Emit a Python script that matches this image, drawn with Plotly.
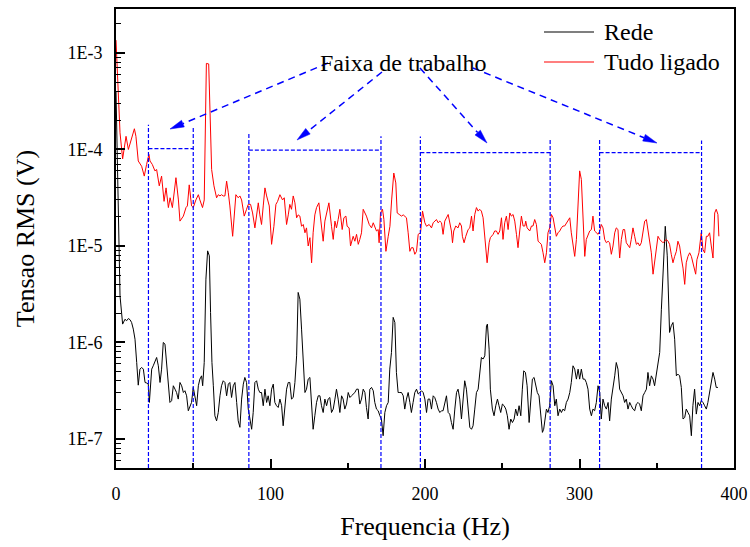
import plotly.graph_objects as go

# Spectrum of the mains alone ("Rede"), frequency in Hz and RMS voltage in microvolts
freq_rede = [0, 1, 2, 2.6, 4.3, 5.8, 6.9, 8.0, 9.1, 10.1, 11.2, 12.3, 13.4, 14.4, 15.5, 16.6, 17.7, 18.8, 19.8,
             20.9, 21.6, 22.4, 23.1, 24.1, 25.2, 26.3, 27.4, 28.5, 29.5, 30.6, 31.7, 32.8, 33.9, 34.9, 36.0, 37.1,
             38.2, 39.2, 40.3, 41.4, 42.5, 43.6, 44.6, 45.7, 46.8, 47.9, 48.9, 50.0, 51.1, 52.2, 53.3, 54.3, 55.4,
             56.1, 57.1, 58.2, 59.3, 60.4, 61.2, 62.1, 63.0, 64.0, 65.1, 66.2, 67.3, 68.3, 69.4, 70.5, 71.6, 72.7,
             73.7, 74.8, 75.9, 77.0, 78.1, 79.1, 80.2, 81.3, 82.4, 83.4, 84.5, 85.6, 86.7, 87.8, 88.8, 89.9, 91.0,
             92.1, 93.1, 94.2, 95.3, 96.4, 97.5, 98.5, 99.6, 100.7, 101.8, 102.8, 103.9, 105.0, 106.1, 107.2, 108.2,
             109.3, 110.4, 111.5, 112.5, 113.6, 114.7, 115.8, 116.9, 117.9, 119.0, 120.1, 121.2, 122.3, 123.3, 124.4,
             125.5, 126.6, 127.6, 128.7, 129.8, 130.9, 132.0, 133.0, 134.1, 135.2, 136.3, 137.3, 138.4, 139.5, 140.6,
             141.7, 142.7, 143.8, 144.9, 146.0, 147.0, 148.1, 149.2, 150.3, 151.4, 152.4, 153.5, 154.6, 155.7, 156.8,
             157.8, 158.9, 160.0, 161.1, 162.1, 163.2, 164.3, 165.4, 166.5, 167.5, 168.6, 169.7, 170.8, 171.8, 172.9,
             174.0, 175.1, 176.2, 177.2, 178.3, 179.4, 180.5, 181.5, 182.6, 183.7, 184.8, 185.9, 186.9, 188.0, 189.1,
             190.2, 191.2, 192.3, 193.4, 194.5, 195.6, 196.6, 197.7, 198.8, 199.9, 201.0, 202.0,
             203.1, 204.2, 205.3, 206.3, 207.4, 208.5, 209.6, 210.7, 211.7, 212.8, 213.9, 215.0, 216.0, 217.1, 218.2,
             219.3, 220.4, 221.4, 222.5, 223.6, 224.7, 225.7, 226.8, 227.9, 229.0, 230.1, 231.1, 232.2, 233.3, 234.4,
             235.4, 236.5, 237.6, 238.7, 239.8, 240.4, 241.5, 242.3, 243.6, 244.7, 245.8, 246.9, 247.9, 249.0, 250.1,
             251.2, 252.3, 253.3, 254.4, 255.5, 256.6, 257.7, 258.7, 259.8, 260.9, 262.0, 263.0, 263.9, 265.0, 266.1,
             267.4, 268.4, 269.5, 270.6, 271.7, 272.7, 273.8, 274.9, 276.0, 276.8, 277.7, 278.6, 279.6, 280.7, 281.8,
             282.9, 284.0, 285.0, 286.1, 287.2, 288.3, 289.3, 290.4, 291.5, 292.6, 293.7, 294.7, 295.8, 296.9, 298.0,
             299.1, 300.1, 301.2, 302.3, 303.4, 304.4, 305.5, 306.6, 307.7, 308.7, 309.8, 310.9, 312.0, 313.1, 314.1,
             315.2, 316.3, 317.4, 318.5, 319.5, 320.6, 321.7, 322.8, 323.8, 324.9, 326.0, 327.1, 328.2, 329.2, 330.3,
             331.4, 332.5, 333.5, 334.6, 335.7, 336.8, 337.9, 338.9, 340.0, 341.1, 342.2, 343.3, 344.3, 345.4, 346.5,
             347.6, 348.6, 349.7, 350.8, 351.9, 353.0, 354.0, 355.5, 356.8, 357.7, 358.3, 359.4, 360.5, 361.6, 362.7,
             363.7, 364.8, 365.9, 367.0, 368.1, 369.1, 370.2, 371.3, 372.4, 373.4, 374.5, 375.6, 376.7, 377.8, 378.8,
             379.9, 381.0, 382.1, 383.1, 384.2, 385.3, 386.4, 387.5, 388.5, 389.6]
rede_uV = [400, 50, 10, 3.04, 1.55, 1.74, 1.68, 1.77, 1.72, 1.61, 1.375, 1.08, 0.62, 0.361, 0.529, 0.551, 0.529, 0.385,
           0.38, 0.37, 0.239, 0.356, 0.529, 0.573, 0.645, 0.699, 0.573, 0.385, 0.529, 1.0, 0.961, 0.62, 0.401, 0.239,
           0.249, 0.356, 0.328, 0.303, 0.259, 0.385, 0.356, 0.303, 0.316, 0.28, 0.196, 0.221, 0.239, 0.342, 0.28,
           0.221, 0.356, 0.417, 0.451, 0.356, 0.62, 4.53, 8.9, 7.9, 2.05, 0.62, 0.356, 0.174, 0.154, 0.188, 0.28,
           0.356, 0.401, 0.385, 0.28, 0.37, 0.385, 0.269, 0.356, 0.385, 0.239, 0.154, 0.132, 0.259, 0.37, 0.434,
           0.385, 0.204, 0.161, 0.126, 0.188, 0.385, 0.401, 0.328, 0.303, 0.303, 0.221, 0.328, 0.239, 0.28, 0.221,
           0.328, 0.37, 0.239, 0.221, 0.212, 0.259, 0.221, 0.137, 0.239, 0.328, 0.385, 0.385, 0.259, 0.269, 0.385,
           0.727, 3.3, 2.81, 1.375, 0.62, 0.303, 0.328, 0.417, 0.434, 0.221, 0.126, 0.174, 0.239, 0.28, 0.28, 0.221,
           0.188, 0.259, 0.221, 0.259, 0.269, 0.188, 0.204, 0.259, 0.328, 0.259, 0.188, 0.28, 0.259, 0.204, 0.23,
           0.303, 0.269, 0.28, 0.292, 0.303, 0.328, 0.328, 0.23, 0.259, 0.328, 0.303, 0.212, 0.161, 0.328, 0.342,
           0.316, 0.239, 0.204, 0.196, 0.174, 0.161, 0.108, 0.188, 0.221, 0.239, 0.529, 0.788, 1.82, 1.61, 0.489,
           0.303, 0.303, 0.303, 0.28, 0.204, 0.259, 0.303, 0.239, 0.188, 0.239, 0.303, 0.328, 0.292, 0.303, 0.316,
           0.303, 0.259, 0.188, 0.259,
           0.259, 0.204, 0.28, 0.269, 0.239, 0.204, 0.188, 0.196, 0.196, 0.239, 0.28, 0.188, 0.181, 0.148, 0.126,
           0.204, 0.303, 0.328, 0.259, 0.161, 0.28, 0.401, 0.328, 0.204, 0.132, 0.126, 0.137, 0.204, 0.303, 0.328,
           0.451, 0.699, 0.673, 0.727, 1.49, 1.55, 0.853, 0.328, 0.204, 0.174, 0.221, 0.259, 0.221, 0.188, 0.23,
           0.221, 0.204, 0.174, 0.126, 0.161, 0.148, 0.161, 0.204, 0.174, 0.221, 0.174, 0.328, 0.508, 0.489, 0.356,
           0.148, 0.239, 0.417, 0.434, 0.342, 0.303, 0.28, 0.174, 0.117, 0.126, 0.174, 0.204, 0.188, 0.221, 0.401,
           0.356, 0.221, 0.259, 0.174, 0.204, 0.188, 0.204, 0.196, 0.239, 0.259, 0.303, 0.385, 0.573, 0.529, 0.417,
           0.529, 0.417, 0.529, 0.417, 0.417, 0.385, 0.328, 0.204, 0.174, 0.204, 0.196, 0.239, 0.356, 0.303, 0.161,
           0.259, 0.221, 0.204, 0.239, 0.154, 0.259, 0.328, 0.451, 0.62, 0.529, 0.328, 0.303, 0.28, 0.239, 0.259,
           0.204, 0.239, 0.221, 0.204, 0.196, 0.23, 0.239, 0.23, 0.196, 0.28, 0.303, 0.328, 0.489, 0.356, 0.451,
           0.417, 0.356, 0.451, 0.62, 0.788, 2.21, 5.75, 16, 7.9, 2.05, 1.27, 1.49, 1.61, 1.08, 0.451,
           0.47, 0.451, 0.342, 0.161, 0.167, 0.204, 0.188, 0.174, 0.108, 0.221, 0.328, 0.181, 0.239, 0.221, 0.249,
           0.239, 0.221, 0.204, 0.239, 0.303, 0.385, 0.489, 0.417, 0.342, 0.342]

# Spectrum with every load switched on ("Tudo ligado"), Hz and microvolts
freq_tudo = [0, 1.5, 2.6, 4.3, 6.5, 8.0, 9.1, 10.1, 11.9, 12.9, 14.4, 16.6, 18.3, 19.8, 21.3, 22.0, 23.5, 25.2, 26.3,
             28.0, 29.5, 31.1, 32.4, 33.9, 35.0, 36.5, 37.1, 38.8, 40.4, 41.4, 43.6, 45.3, 46.2, 47.4, 48.9, 50.0,
             51.7, 53.3, 54.3, 56.0, 57.1, 58.5, 60.0, 61.9, 63.4, 65.1, 66.2, 67.3, 68.3, 69.4, 70.5, 71.6, 72.7,
             73.7, 75.5, 76.3, 77.6, 79.1, 80.2, 81.3, 83.0, 84.5, 85.6, 87.1, 88.4, 89.9, 91.0, 92.1, 93.1, 94.2,
             95.3, 96.4, 97.5, 99.2, 100.7, 102.2, 103.5, 104.6, 106.1, 107.8, 108.9, 110.4, 111.5, 112.5, 113.6,
             114.7, 115.8, 116.9, 117.9, 119.0, 120.1, 121.2, 122.3, 123.3, 124.4, 125.5, 126.6, 127.6, 128.7, 129.8,
             131.3, 132.4, 134.1, 135.2, 136.3, 137.8, 139.5, 140.6, 141.7, 142.7, 143.8, 144.9, 146.4, 147.5, 148.8,
             149.6, 150.9, 151.8, 153.5, 154.6, 155.7, 156.8, 157.8, 158.9, 160.0, 161.1, 162.1, 163.9, 165.4, 166.5,
             167.5, 168.6, 169.7, 170.3, 171.2, 172.5, 173.4, 174.7, 176.2, 177.3, 178.4, 179.8, 181.1, 182.0, 183.7,
             184.8, 185.9, 186.9, 188.0, 189.1, 190.2, 191.2, 192.3, 193.4, 194.5, 195.6, 197.1, 198.4, 199.9, 201.0,
             202.7, 204.2, 205.3, 207.4, 208.5, 209.6, 210.7, 211.7, 212.8, 215.0, 216.0, 217.1, 217.8, 218.6, 219.9,
             221.4, 222.5, 223.6, 224.2, 225.3, 226.4, 227.9, 229.0, 230.1, 231.1, 232.2, 233.3, 234.4, 235.4, 236.5,
             237.6, 238.7, 240.2, 241.5, 242.3, 244.1, 245.1, 246.2, 247.3, 248.4, 249.5, 250.5, 251.6, 252.7, 253.8,
             254.9, 255.9, 257.0, 258.1, 259.2, 260.2, 261.3, 262.4, 263.5, 264.6, 265.2, 266.1, 267.8, 268.9, 269.9,
             271.0, 272.1, 273.2, 274.3, 275.3, 276.4, 277.5, 278.6, 279.6, 280.7, 281.8, 282.9, 284.0, 285.0, 286.1,
             287.2, 288.3, 289.3, 290.4, 291.5, 292.6, 293.7, 294.7, 295.8, 296.9, 298.0, 299.1, 300.1, 301.2, 302.3,
             303.4, 304.4, 305.5, 306.6, 307.7, 308.7, 309.8, 310.9, 312.0, 313.1, 314.1, 315.2, 316.3, 317.4, 318.5,
             319.5, 320.6, 321.7, 322.8, 323.8, 324.9, 326.0, 327.1, 328.2, 329.2, 330.3, 331.4, 332.5, 333.5, 334.6,
             335.7, 336.8, 337.9, 338.9, 340.0, 341.1, 342.2, 343.3, 344.3, 345.4, 346.5, 347.6, 348.6, 349.7, 350.8,
             351.9, 353.0, 354.0, 355.1, 356.2, 357.3, 358.3, 359.4, 360.5, 361.6, 362.7, 363.7, 364.8, 365.9, 367.0,
             368.1, 369.1, 370.2, 371.3, 372.4, 373.4, 374.5, 375.2, 376.0, 377.3, 378.8, 379.9, 381.0, 382.1, 383.1,
             384.2, 385.3, 386.4, 387.5, 388.5, 389.6, 390.2]
tudo_uV = [1360, 300, 149, 80, 137, 100, 117, 127, 164, 137, 76, 67, 53, 70, 89, 76, 70, 60, 62,
           42, 53, 29, 40, 25, 31.6, 25, 30, 51, 30, 18.1, 20.4, 25, 26, 43, 26, 25,
           30, 34, 30, 25, 30, 780, 770, 62, 42, 31.6, 34, 33, 34, 33, 33, 47, 35.6,
           26, 12.6, 18.8, 34, 31.6, 33, 30, 20.4, 24, 27, 27, 22, 15.4, 22, 28, 21, 16.7,
           26, 40, 33, 26, 10.4, 16, 27, 29, 34, 30, 31.6, 16.7, 21, 27, 24,
           33, 28, 19.6, 21, 20.4, 16, 16.7, 13.7, 15.4, 10, 12.2, 6.7, 13.7, 21, 25,
           28, 18.1, 11.2, 18.1, 22, 28, 16, 11.7, 18.1, 15.4, 18.8, 24, 14.8, 19.6, 20.4,
           16, 15.4, 10, 12.6, 11.2, 13.2, 10.4, 11.7, 13.7, 24, 22, 20.4, 16.7, 15.4, 17.4,
           16, 14.3, 14.8, 10.8, 22, 24, 18.8, 8.8, 12.6, 16, 30, 57, 45, 22, 21,
           20.4, 21, 20.4, 19.6, 13.7, 8.8, 9.6, 9.6, 8.2, 8.8, 13.2, 13.7, 23, 17.4, 16,
           16.7, 15.4, 17.4, 18.8, 17.4, 18.1, 17.4, 13.2, 18.1, 21.2, 17.4, 14.3, 10.8, 14.3, 16.1,
           15.4, 17.4, 16.1, 12.6, 10.8, 12.6, 14.8, 15.4, 20.4, 14.3, 21.2, 25, 23, 24, 23,
           19.6, 12.6, 6.7, 10.8, 12.2, 13.2, 14.3, 14.3, 13.2, 14.3, 19.6, 11.7, 17.4, 20.4, 14.8,
           22, 20.4, 21.2, 18.1, 13.2, 9.6, 14.3, 20.4, 16.1, 16.1, 18.1, 15.4, 14.3, 16.1, 16.1,
           18.8, 16.7, 11.2, 10.8, 10.4, 8.5, 6.7, 8.5, 13.7, 15.4, 21.2, 19.6, 16.1, 12.6, 13.7,
           14.3, 15.4, 16.1, 16.1, 17.4, 18.8, 19.6, 13.7, 10.8, 7.8, 11.7, 28, 60, 49, 21.2,
           7.8, 11.7, 13.2, 14.3, 14.8, 20.4, 14.3, 13.7, 13.2, 14.3, 16.7, 15.4, 11.7, 10.8, 11.2,
           10.8, 8.2, 10, 13.7, 15.4, 14.8, 7.5, 11.7, 14.8, 14.8, 10.8, 10, 9.6, 11.7, 15.4,
           12.6, 10.4, 10.8, 10, 10.8, 14.8, 18.1, 18.8, 14.8, 10.8, 8.5, 5.1, 6.7, 10, 12.6,
           11.7, 11.2, 10.8, 11.2, 11.7, 11.2, 10.4, 8.2, 6.7, 7.8, 8.8, 11.2, 10, 7.5, 5.9,
           4.0, 6.7, 7.8, 8.5, 7.8, 6.7, 5.7, 5.1, 7.2, 8.5, 13.7, 9.2, 8.5, 12.6, 12.6,
           13.7, 10, 7.5, 22, 24, 21.2, 12.6]

# Working frequency bands (Hz), bracket level and height of the side bars (V)
faixas = [(21, 50), (86, 171.5), (197, 281), (313, 379)]
nivel_faixa = [1.02e-4, 9.85e-5, 9.3e-5, 9.3e-5]
topo_esq = [1.8e-4, 1.5e-4, 1.36e-4, 1.31e-4]
topo_dir = [1.69e-4, 1.37e-4, 1.31e-4, 1.24e-4]

y_min, y_max = 5e-8, 2.86e-3
ytick_vals = [1e-7, 1e-6, 1e-5, 1e-4, 1e-3]
ytick_text = ["1E-7", "1E-6", "1E-5", "1E-4", "1E-3"]
xtick_vals = [0, 100, 200, 300, 400]

FONT = "Liberation Serif"
AZUL = "#0000ff"
PLOT_W, PLOT_H = 618, 459   # size of the plotting area in pixels


def to_paper(px, py):
    """Pixel offset inside the plotting area (origin top-left) -> paper coordinates."""
    return px / PLOT_W, 1 - py / PLOT_H


fig = go.Figure()

fig.add_trace(go.Scatter(x=freq_rede, y=[v * 1e-6 for v in rede_uV], mode="lines", name="Rede",
                         showlegend=False, line=dict(color="black", width=1)))
fig.add_trace(go.Scatter(x=freq_tudo, y=[v * 1e-6 for v in tudo_uV], mode="lines", name="Tudo ligado",
                         showlegend=False, line=dict(color="#ff0000", width=1)))

# dashed brackets marking each working band
for (f0, f1), nivel, t0, t1 in zip(faixas, nivel_faixa, topo_esq, topo_dir):
    fig.add_trace(go.Scatter(
        x=[f0, f0, None, f1, f1, None, f0, f1],
        y=[y_min, t0, None, y_min, t1, None, nivel, nivel],
        mode="lines", showlegend=False, hoverinfo="skip",
        line=dict(color=AZUL, width=1.2, dash="4px,2px")))

# dashed arrows from the label down to each band: (start, tip) in plot-area pixels
setas = [((212, 54), (54, 120)),
         ((266, 63), (181, 131)),
         ((304, 59), (371, 134)),
         ((357, 59), (541, 134))]
HEAD_LEN, HEAD_HALF = 14, 3.6
for (xs, ys), (xt, yt) in setas:
    dx, dy = xs - xt, ys - yt
    n = (dx * dx + dy * dy) ** 0.5
    ux, uy = dx / n, dy / n
    bx, by = xt + ux * HEAD_LEN, yt + uy * HEAD_LEN
    x0, y0 = to_paper(xs, ys)
    x1, y1 = to_paper(bx, by)
    fig.add_shape(type="line", xref="paper", yref="paper", x0=x0, y0=y0, x1=x1, y1=y1,
                  line=dict(color=AZUL, width=1.5, dash="7px,5px"))
    pts = [to_paper(xt, yt),
           to_paper(bx - uy * HEAD_HALF, by + ux * HEAD_HALF),
           to_paper(bx + uy * HEAD_HALF, by - ux * HEAD_HALF)]
    path = "M{},{} L{},{} L{},{} Z".format(*[c for p in pts for c in p])
    fig.add_shape(type="path", xref="paper", yref="paper", path=path,
                  fillcolor=AZUL, line=dict(color=AZUL, width=0.5))

fig.add_annotation(x=0.4652, y=0.915, xref="paper", yref="paper", text="Faixa de trabalho",
                   showarrow=False, font=dict(family=FONT, size=24, color="black"))

# legend drawn as line samples with labels
legenda = [("Rede", "black", 23), ("Tudo ligado", "#ff0000", 53)]
for nome, cor, py in legenda:
    xa, ya = to_paper(428, py)
    xb, _ = to_paper(478, py)
    fig.add_shape(type="line", xref="paper", yref="paper", x0=xa, y0=ya, x1=xb, y1=ya,
                  line=dict(color=cor, width=1.2))
    xt, _ = to_paper(486, py)
    fig.add_annotation(x=xt, y=ya, xref="paper", yref="paper", text=nome, showarrow=False,
                       xanchor="left", yanchor="middle", font=dict(family=FONT, size=24, color="black"))

minor_y = [k * 10.0 ** e for e in range(-8, -2) for k in range(2, 10)]
minor_y = [v for v in minor_y if y_min <= v <= y_max]

fig.update_xaxes(range=[0, 400], tickvals=xtick_vals, ticks="inside", ticklen=9, tickwidth=1.5,
                 tickcolor="black", showline=True, linewidth=2, linecolor="black", mirror=True,
                 showgrid=False, zeroline=False, tickfont=dict(family=FONT, size=18, color="black"),
                 ticklabelstandoff=8,
                 minor=dict(tickvals=[50, 150, 250, 350], ticks="inside", ticklen=5, tickwidth=1.5,
                            tickcolor="black", showgrid=False),
                 title=dict(text="Frequencia (Hz)", font=dict(family=FONT, size=26, color="black"),
                            standoff=14))
fig.update_yaxes(type="log", range=[-7.301, -2.544], tickvals=ytick_vals, ticktext=ytick_text,
                 ticks="inside", ticklen=9, tickwidth=1.5, tickcolor="black", showline=True,
                 linewidth=2, linecolor="black", mirror=True, showgrid=False, zeroline=False,
                 tickfont=dict(family=FONT, size=18, color="black"), ticklabelstandoff=8,
                 minor=dict(tickvals=minor_y, ticks="inside", ticklen=5, tickwidth=1.2,
                            tickcolor="black", showgrid=False),
                 title=dict(text="Tensao RMS (V)", font=dict(family=FONT, size=26, color="black"),
                            standoff=25))

fig.update_layout(width=750, height=547, margin=dict(l=116, r=16, t=9, b=79, autoexpand=False),
                  paper_bgcolor="white", plot_bgcolor="white",
                  font=dict(family=FONT, color="black"),
                  showlegend=False)

fig.write_html("out.html")
